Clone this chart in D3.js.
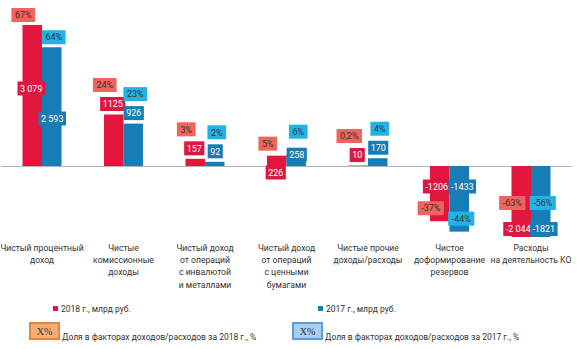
<!DOCTYPE html>
<html>
<head>
<meta charset="utf-8">
<script src="https://cdn.jsdelivr.net/npm/d3@7"></script>
<style>
  body { margin: 0; background: #fff; }
  text { font-family: Roboto, "Noto Sans", sans-serif; }
</style>
</head>
<body>
<div id="container"></div>
<script>
/* DATA */
const categories = [
  "Чистый процентный|доход",
  "Чистые|комиссионные|доходы",
  "Чистый доход|от операций|с инвалютой|и металлами",
  "Чистый доход|от операций|с ценными|бумагами",
  "Чистые прочие|доходы/расходы",
  "Чистое|доформирование|резервов",
  "Расходы|на деятельность КО"
];
const values2018 = [3079, 1125, 157, 226, 10, -1206, -2044];
const values2017 = [2593, 926, 92, 258, 170, -1433, -1821];
const valueLabels2018 = ["3 079", "1125", "157", "226", "10", "-1206", "-2 044"];
const valueLabels2017 = ["2 593", "926", "92", "258", "170", "-1433", "-1821"];
const shares2018 = ["67%", "24%", "3%", "5%", "0,2%", "-37%", "-63%"];
const shares2017 = ["64%", "23%", "2%", "6%", "4%", "-44%", "-56%"];
const seriesNames = ["2018 г., млрд руб.", "2017 г., млрд руб."];
const shareNames = ["Доля в факторах доходов/расходов за 2018 г., %", "Доля в факторах доходов/расходов за 2017 г., %"];

/* CONSTANTS */
const width = 581, height = 349;

const series = [
  { key: "2018", values: values2018, labels: valueLabels2018, shares: shares2018,
    bar: "#e3173d", box: "#dc1840", pct: "#f0645c", side: -1,
    place: ["inside", "top", "top", "below", "top", "base", "end"], frac: 0.45, pdx: -9, vdx: -1 },
  { key: "2017", values: values2017, labels: valueLabels2017, shares: shares2017,
    bar: "#177db6", box: "#1a7cb3", pct: "#22b3e6", side: 1,
    place: ["inside", "top", "top", "cover", "top", "base", "end"], frac: 0.6, pdx: 2, vdx: 0.5 }
];

/* SCALES */
const x0 = d3.scaleBand().domain(categories).range([1.25, 571.75]);
const x1 = d3.scaleBand().domain(series.map(s => s.key))
  .range([x0.bandwidth() / 2 - 19.5, x0.bandwidth() / 2 + 19.5]);
// last category is cut off in the source, so the scale is clamped
const y = d3.scaleLinear().domain([-1550, 3079]).range([237, 25]).clamp(true);

const svg = d3.select("#container").append("svg")
  .attr("width", width).attr("height", height);

/* AXIS */
const xAxis = d3.axisBottom(x0).tickSize(0).tickFormat("");
const ax = svg.append("g").attr("transform", `translate(0,${y(0)})`).call(xAxis);
ax.select(".domain").attr("stroke", "#b4b4b4").attr("d", "M1,0.5H572");
ax.selectAll(".tick").each(function(d) {
  const t = d3.select(this).append("text")
    .attr("text-anchor", "middle").attr("fill", "#333").style("font-size", "8.6px");
  d.split("|").forEach((line, i) => {
    t.append("tspan").attr("x", 0).attr("y", 84.5 + i * 12.4).text(line);
  });
});

/* BARS */
series.forEach(s => {
  svg.append("g").selectAll("rect")
    .data(s.values)
    .join("rect")
    .attr("x", (d, i) => x0(categories[i]) + x1(s.key))
    .attr("width", x1.bandwidth())
    .attr("y", d => Math.min(y(d), y(0)))
    .attr("height", d => Math.abs(y(d) - y(0)))
    .attr("fill", s.bar);
});

/* LABEL BOXES */
function box(g, cx, cy, txt, fill, color, fs, pad) {
  const t = g.append("text").attr("x", cx).attr("y", cy + fs * 0.36)
    .attr("text-anchor", "middle").attr("fill", color)
    .style("font-size", fs + "px").text(txt);
  const w = t.node().getComputedTextLength() + pad;
  g.insert("rect", "text:last-child")
    .attr("x", cx - w / 2).attr("y", cy - 7).attr("width", w).attr("height", 14)
    .attr("fill", fill);
}

series.forEach(s => {
  s.values.forEach((v, i) => {
    const cx = x0(categories[i]) + x1(s.key) + x1.bandwidth() / 2;
    const end = y(v), h = Math.abs(end - y(0));
    let vy, py, dx = s.vdx;
    switch (s.place[i]) {
      case "inside": vy = end + h * s.frac; py = end - 10; break;
      case "top": vy = end - 10.5; py = vy - 19; break;
      case "cover": vy = end + 0.5; py = vy - 23; break;
      case "below": vy = y(0) + 6.5; py = end - 12; break;
      case "base": vy = y(0) + 20.5; py = end - 13; dx = s.side * 3; break;
      case "end": vy = end - 8; py = vy - 26; dx = s.side * 3; break;
    }
    box(svg.append("g"), cx + s.pdx, py, s.shares[i], s.pct, "#333", 9, 7);
    box(svg.append("g"), cx + dx, vy, s.labels[i], s.box, "#fff", 9, 5);
  });
});

/* LEGEND */
const lx = [53, 318];
series.forEach((s, k) => {
  svg.append("rect").attr("x", lx[k]).attr("y", 306).attr("width", 5).attr("height", 5).attr("fill", s.bar);
  svg.append("text").attr("x", lx[k] + 8).attr("y", 312).attr("fill", "#333")
    .style("font-size", "8.5px").text(seriesNames[k]);
});

const bx = [30, 293];
const boxFill = ["#f6ad75", "#a8cdee"], boxStroke = ["#e5843e", "#5b9fd6"];
shareNames.forEach((n, k) => {
  svg.append("rect").attr("x", bx[k]).attr("y", 323).attr("width", 29).attr("height", 16)
    .attr("fill", boxFill[k]).attr("stroke", boxStroke[k]).attr("stroke-width", 2);
  svg.append("text").attr("x", bx[k] + 14.5).attr("y", 334.5).attr("text-anchor", "middle")
    .attr("fill", "#333").style("font-family", "Liberation Serif, serif").style("font-size", "10px")
    .text("X%");
  svg.append("text").attr("x", bx[k] + 32).attr("y", 339.5).attr("fill", "#333")
    .style("font-size", "8.5px").text(n);
});
</script>
</body>
</html>
